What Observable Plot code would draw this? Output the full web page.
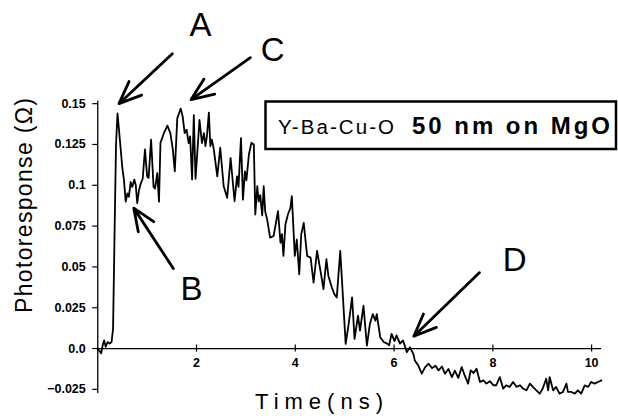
<!DOCTYPE html>
<html>
<head>
<meta charset="utf-8">
<script src="https://cdn.jsdelivr.net/npm/d3@7"></script>
<script src="https://cdn.jsdelivr.net/npm/@observablehq/plot@0.6"></script>
<style>
  html, body { margin: 0; padding: 0; background: #fff; }
  #chart { width: 618px; height: 416px; }
</style>
</head>
<body>
<div id="chart"></div>
<script>
// time (ns)
const times = [
  0.00, 0.07, 0.10, 0.13, 0.16, 0.20, 0.24, 0.28, 0.31, 0.34, 0.37, 0.40, 0.43, 0.465, 0.50, 0.53, 0.566, 0.60, 0.63, 0.667,
  0.70, 0.74, 0.77, 0.80, 0.835, 0.87, 0.91, 0.956, 1.00, 1.03, 1.08, 1.13, 1.16, 1.205, 1.24, 1.27, 1.34, 1.41, 1.47, 1.52,
  1.56, 1.61, 1.68, 1.72, 1.76, 1.80, 1.84, 1.87, 1.91, 1.945, 1.98, 2.06, 2.11, 2.15, 2.18, 2.21, 2.25, 2.28, 2.31, 2.35,
  2.42, 2.48, 2.55, 2.62, 2.69, 2.77, 2.82, 2.85, 2.90, 2.94, 2.98, 3.01, 3.06, 3.11, 3.16, 3.19, 3.23, 3.26, 3.29, 3.33,
  3.36, 3.39, 3.43, 3.49, 3.56, 3.65, 3.70, 3.73, 3.76, 3.80, 3.85, 3.90, 3.93, 3.99, 4.03, 4.08, 4.12, 4.17, 4.24, 4.31,
  4.37, 4.44, 4.51, 4.57, 4.63, 4.67, 4.74, 4.79, 4.84, 4.91, 5.02, 5.08, 5.15, 5.20, 5.27, 5.31, 5.38, 5.45, 5.51, 5.57,
  5.62, 5.65, 5.72, 5.79, 5.86, 5.90, 5.95, 6.01, 6.05, 6.12, 6.18, 6.26, 6.32, 6.39, 6.42, 6.49, 6.56, 6.63, 6.70, 6.77,
  6.84, 6.90, 6.97, 7.03, 7.10, 7.17, 7.23, 7.30, 7.37, 7.43, 7.50, 7.55, 7.61, 7.67, 7.74, 7.81, 7.87, 7.94, 8.01, 8.07,
  8.14, 8.21, 8.27, 8.34, 8.41, 8.48, 8.55, 8.61, 8.68, 8.75, 8.81, 8.88, 8.95, 9.01, 9.08, 9.12, 9.15, 9.22, 9.28, 9.35,
  9.42, 9.49, 9.52, 9.59, 9.66, 9.72, 9.79, 9.86, 9.93, 9.99, 10.06, 10.13, 10.20
];
// photoresponse (ohm)
const response = [
  0.000, -0.003, 0.002, 0.005, 0.001, 0.004, 0.003, 0.004, 0.012, 0.070, 0.125, 0.144, 0.134, 0.122, 0.110, 0.1035, 0.090, 0.095, 0.093, 0.102,
  0.099, 0.1035, 0.100, 0.089, 0.097, 0.101, 0.104, 0.122, 0.1055, 0.1045, 0.128, 0.099, 0.098, 0.1075, 0.090, 0.126, 0.132, 0.1365, 0.132, 0.122,
  0.1085, 0.141, 0.147, 0.142, 0.132, 0.134, 0.1258, 0.130, 0.1035, 0.143, 0.104, 0.140, 0.1258, 0.132, 0.124, 0.130, 0.1445, 0.124, 0.128, 0.122,
  0.1055, 0.123, 0.0994, 0.0923, 0.1167, 0.0902, 0.1055, 0.099, 0.1289, 0.0912, 0.1085, 0.103, 0.1187, 0.126, 0.125, 0.0821, 0.0994, 0.090, 0.094, 0.0815,
  0.0994, 0.084, 0.0791, 0.0679, 0.0689, 0.0841, 0.0648, 0.070, 0.0567, 0.0760, 0.0821, 0.086, 0.0933, 0.0567, 0.0667, 0.0455, 0.0699, 0.077, 0.0567, 0.0557,
  0.0404, 0.0598, 0.0476, 0.0364, 0.0547, 0.0445, 0.0374, 0.0333, 0.0313, 0.0598, 0.0028, 0.015, 0.0313, 0.0059, 0.0201, 0.011, 0.0262, 0.0018, 0.015, 0.0211,
  0.017, 0.021, 0.0069, 0.004, 0.003, 0.002, 0.009, 0.0045, 0.008, 0.003, 0.005, -0.0022, 0.0008, -0.0033, -0.0073, -0.0104, -0.0154, -0.0114, -0.0093, -0.012,
  -0.0105, -0.0134, -0.011, -0.0154, -0.0125, -0.0175, -0.0135, -0.018, -0.0114, -0.0165, -0.0215, -0.0134, -0.015, -0.0124, -0.0205, -0.0195, -0.0215, -0.020, -0.0225, -0.0225,
  -0.0175, -0.0246, -0.0225, -0.0235, -0.0205, -0.0235, -0.0225, -0.0245, -0.0256, -0.0215, -0.0235, -0.0256, -0.0276, -0.0245, -0.0185, -0.0256, -0.0175, -0.0256, -0.0235, -0.0276,
  -0.0266, -0.0215, -0.0266, -0.0266, -0.0276, -0.0256, -0.0276, -0.0226, -0.0235, -0.0205, -0.0215, -0.0205, -0.0195
];

const yTicks = [0.15, 0.125, 0.1, 0.075, 0.05, 0.025, 0, -0.025];
const yTickLabels = ["0.15", "0.125", "0.1", "0.075", "0.05", "0.025", "0.0", "\u22120.025"];
const xTicks = [2, 4, 6, 8, 10];
const xTickLabels = ["2", "4", "6", "8", "10"];

// annotation letters and arrows (data units: ns, ohm)
const annLabels = ["A", "B", "C", "D"];
const annLabelT = [2.08, 1.90, 3.54, 8.44];
const annLabelV = [0.198, 0.036, 0.1825, 0.0539];
const annTailT = [1.51, 1.53, 3.09, 7.73];
const annTailV = [0.1806, 0.0490, 0.1782, 0.0465];
const annTipT = [0.43, 0.73, 1.89, 6.40];
const annTipV = [0.1500, 0.0860, 0.1525, 0.0075];

const titlePlain = "Y-Ba-Cu-O";
const titleBold = "50 nm on MgO";
const xLabel = "Time(ns)";
const yLabel = "Photoresponse (\u03A9)";

const series = times.map((t, i) => ({t, v: response[i]}));
const anns = annLabels.map((l, i) => ({
  label: l, lt: annLabelT[i], lv: annLabelV[i],
  tt: annTailT[i], tv: annTailV[i], ht: annTipT[i], hv: annTipV[i]
}));

const font = "'Liberation Sans', Arial, Helvetica, sans-serif";

const plot = Plot.plot({
  width: 618,
  height: 416,
  marginLeft: 97.25,
  marginRight: 17,
  marginTop: 95,
  marginBottom: 19,
  style: {fontFamily: font, background: "white", color: "black", overflow: "visible"},
  x: {domain: [0, 10.2], axis: null},
  y: {domain: [-0.03, 0.155], axis: null},
  marks: [
    Plot.ruleX([0], {y1: -0.0275, y2: 0.1515, stroke: "black", strokeWidth: 1.3}),
    Plot.ruleY([0], {x1: 0, x2: 10.2, stroke: "black", strokeWidth: 1.3}),
    Plot.axisY({
      ticks: yTicks, anchor: "left", tickSize: 5, tickPadding: 7,
      tickFormat: (d) => yTickLabels[yTicks.indexOf(d)],
      fontSize: 12.5, fontWeight: "bold", label: null, strokeWidth: 1.2
    }),
    Plot.ruleX(xTicks, {x: d => d, y1: -0.0022, y2: 0.0022, stroke: "black", strokeWidth: 1.2}),
    Plot.text(xTicks, {x: d => d, y: 0, dy: 14, text: (d, i) => xTickLabels[i], fontSize: 12.5, fontWeight: "bold"}),
    Plot.line(series, {x: "t", y: "v", stroke: "black", strokeWidth: 1.8, strokeLinejoin: "round"}),
    Plot.arrow(anns, {x1: "tt", y1: "tv", x2: "ht", y2: "hv", stroke: "black", strokeWidth: 2.8, headLength: 13, headAngle: 45}),
    Plot.text(anns, {x: "lt", y: "lv", text: "label", fontSize: 33, fill: "black"})
  ]
});

document.getElementById("chart").appendChild(plot);

const svg = d3.select(plot);
// title box
svg.append("rect")
  .attr("x", 265.5).attr("y", 101.5).attr("width", 350.5).attr("height", 47.5)
  .attr("fill", "white").attr("stroke", "black").attr("stroke-width", 2.5);
svg.append("text")
  .attr("x", 278).attr("y", 133.5)
  .attr("text-anchor", "start")
  .attr("font-family", font).attr("fill", "black")
  .attr("font-size", 20.5)
  .attr("textLength", 116).attr("lengthAdjust", "spacing")
  .text(titlePlain);
svg.append("text")
  .attr("x", 412).attr("y", 134)
  .attr("text-anchor", "start")
  .attr("font-family", font).attr("fill", "black")
  .attr("font-size", 24).attr("font-weight", "bold")
  .attr("textLength", 198).attr("lengthAdjust", "spacing")
  .text(titleBold);

// axis labels
svg.append("text")
  .attr("x", 255).attr("y", 409)
  .attr("text-anchor", "start")
  .attr("font-family", font).attr("font-size", 22)
  .attr("textLength", 128).attr("lengthAdjust", "spacing")
  .attr("fill", "black").text(xLabel);
svg.append("text")
  .attr("transform", "translate(32,313) rotate(-90)")
  .attr("text-anchor", "start")
  .attr("font-family", font).attr("font-size", 23)
  .attr("textLength", 215).attr("lengthAdjust", "spacing")
  .attr("fill", "black").text(yLabel);
</script>
</body>
</html>
